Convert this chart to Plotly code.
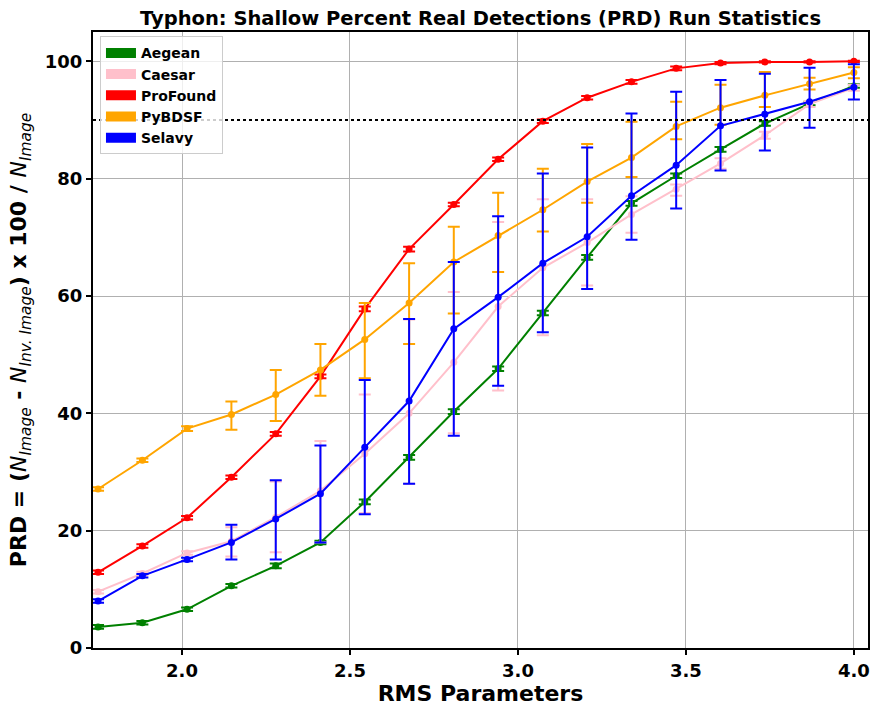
import plotly.graph_objects as go

x_vals = [1.75, 1.882, 2.015, 2.147, 2.279, 2.412, 2.544, 2.676, 2.809, 2.941,
          3.074, 3.206, 3.338, 3.471, 3.603, 3.735, 3.868, 4.0]

aegean = [3.6, 4.3, 6.6, 10.6, 14.0, 18.0, 24.9, 32.5, 40.3, 47.6, 57.1, 66.6, 75.8, 80.5, 85.0, 89.4, 92.8, 95.8]
aegean_hi = [3.9, 4.6, 6.9, 10.9, 14.4, 18.3, 25.3, 32.9, 40.7, 48.0, 57.5, 67.0, 76.2, 80.9, 85.4, 89.8, 93.1, 96.1]
aegean_lo = [3.3, 4.0, 6.3, 10.3, 13.6, 17.7, 24.5, 32.1, 39.9, 47.2, 56.7, 66.2, 75.4, 80.1, 84.6, 89.0, 92.5, 95.5]

caesar = [9.6, 12.7, 16.2, 18.2, 22.3, 26.8, 33.1, 40.0, 48.7, 58.2, 64.8, 69.1, 73.9, 78.2, 82.6, 87.4, 92.7, 95.5]
caesar_hi = [9.9, 13.0, 16.5, 20.6, 28.4, 35.3, 43.2, 56.0, 60.7, 72.6, 76.5, 76.5, 77.0, 79.0, 83.5, 88.0, 93.2, 96.0]
caesar_lo = [9.3, 12.4, 15.9, 15.6, 16.3, 18.0, 23.0, 28.0, 36.6, 43.9, 53.3, 61.8, 70.8, 77.1, 81.7, 86.8, 92.2, 95.0]

profound = [12.9, 17.4, 22.2, 29.1, 36.5, 46.3, 57.8, 68.0, 75.6, 83.3, 89.8, 93.8, 96.5, 98.8, 99.7, 99.9, 99.9, 100.0]
profound_hi = [13.2, 17.7, 22.5, 29.4, 36.8, 46.6, 58.2, 68.4, 75.9, 83.6, 90.1, 94.1, 96.8, 99.1, 99.9, 100.0, 100.0, 100.1]
profound_lo = [12.6, 17.1, 21.9, 28.8, 36.2, 46.0, 57.4, 67.6, 75.3, 83.0, 89.5, 93.5, 96.2, 98.5, 99.5, 99.8, 99.8, 99.9]

pybdsf = [27.1, 32.0, 37.4, 39.8, 43.2, 47.4, 52.6, 58.8, 65.8, 70.3, 74.7, 79.5, 83.6, 88.9, 92.1, 94.2, 96.2, 98.1]
pybdsf_hi = [27.4, 32.3, 37.8, 42.0, 47.4, 51.8, 58.8, 65.6, 71.8, 77.6, 81.7, 85.9, 89.7, 93.1, 96.0, 98.2, 97.2, 99.0]
pybdsf_lo = [26.8, 31.7, 37.0, 37.2, 38.7, 43.0, 46.0, 51.8, 57.0, 64.1, 71.0, 75.9, 80.3, 86.7, 89.2, 92.2, 95.2, 97.1]

selavy = [8.0, 12.3, 15.1, 18.0, 22.0, 26.3, 34.2, 42.1, 54.4, 59.8, 65.6, 70.1, 77.1, 82.3, 89.0, 91.0, 93.1, 95.6]
selavy_hi = [8.3, 12.6, 15.4, 21.0, 28.6, 34.5, 45.7, 56.1, 65.8, 73.6, 80.9, 85.3, 91.1, 94.8, 96.8, 97.9, 98.9, 99.5]
selavy_lo = [7.7, 12.0, 14.8, 15.1, 15.1, 18.0, 22.8, 28.0, 36.2, 44.7, 53.8, 61.2, 69.6, 74.9, 81.4, 84.8, 88.7, 93.5]

threshold = 90
y_ticks = [0, 20, 40, 60, 80, 100]
x_ticks = [2.0, 2.5, 3.0, 3.5, 4.0]

series = [
    ("Aegean", "green", aegean, aegean_hi, aegean_lo),
    ("Caesar", "pink", caesar, caesar_hi, caesar_lo),
    ("ProFound", "red", profound, profound_hi, profound_lo),
    ("PyBDSF", "orange", pybdsf, pybdsf_hi, pybdsf_lo),
    ("Selavy", "blue", selavy, selavy_hi, selavy_lo),
]

FONT = "DejaVu Sans"
fig = go.Figure()

for name, color, y, hi, lo in series:
    fig.add_trace(go.Scatter(
        x=x_vals, y=y, mode="lines+markers", name=name, showlegend=False,
        line=dict(color=color, width=2),
        marker=dict(color=color, size=7),
        error_y=dict(type="data", symmetric=False,
                     array=[h - v for h, v in zip(hi, y)],
                     arrayminus=[v - l for v, l in zip(y, lo)],
                     color=color, thickness=2, width=6),
    ))

# legend patches
for name, color, *_ in series:
    fig.add_trace(go.Scatter(
        x=[None], y=[None], mode="lines", name=name,
        line=dict(color=color, width=10), showlegend=True,
    ))

fig.add_hline(y=threshold, line=dict(color="black", width=2, dash="dot"))

fig.update_layout(
    width=876, height=707,
    margin=dict(l=93, r=8, t=32, b=59, autoexpand=False),
    paper_bgcolor="white", plot_bgcolor="white",
    font=dict(family=FONT, color="black"),
    title=dict(text="<b>Typhon: Shallow Percent Real Detections (PRD) Run Statistics</b>",
               x=(93 + 868) / 2 / 876, xanchor="center", y=1 - 18 / 707, yanchor="middle",
               font=dict(size=19.5, family=FONT), automargin=False),
    legend=dict(x=0.009, y=0.993, xanchor="left", yanchor="top",
                bgcolor="rgba(255,255,255,0.8)", bordercolor="#cccccc", borderwidth=1,
                font=dict(size=14, family=FONT, weight="bold"),
                itemwidth=30, tracegroupgap=0),
    xaxis=dict(
        range=[1.735, 4.042], tickvals=x_ticks, ticktext=[f"{v:.1f}" for v in x_ticks],
        showgrid=True, gridcolor="#b0b0b0", gridwidth=1,
        showline=True, linecolor="black", linewidth=2, mirror=True,
        ticks="outside", ticklen=5, tickwidth=1.5, tickcolor="black",
        tickfont=dict(size=18, family=FONT, weight="bold"),
        title=dict(text="<b>RMS Parameters</b>", font=dict(size=22, family=FONT), standoff=6),
        zeroline=False, automargin=False,
    ),
    yaxis=dict(
        range=[0, 105], tickvals=y_ticks,
        showgrid=True, gridcolor="#b0b0b0", gridwidth=1,
        showline=True, linecolor="black", linewidth=2, mirror=True,
        ticks="outside", ticklen=5, tickwidth=1.5, tickcolor="black",
        tickfont=dict(size=18, family=FONT, weight="bold"),
        title=dict(text="<b>PRD = (</b><i>N</i><sub><i>Image</i></sub><b> - </b><i>N</i><sub><i>Inv. Image</i></sub><b>) x 100 / </b><i>N</i><sub><i>Image</i></sub>",
                   font=dict(size=22, family=FONT), standoff=12),
        zeroline=False, automargin=False,
    ),
)

fig.write_html("out.html", config={"displayModeBar": False},
               post_script="document.body.style.margin='0';document.body.style.overflow='hidden';")
